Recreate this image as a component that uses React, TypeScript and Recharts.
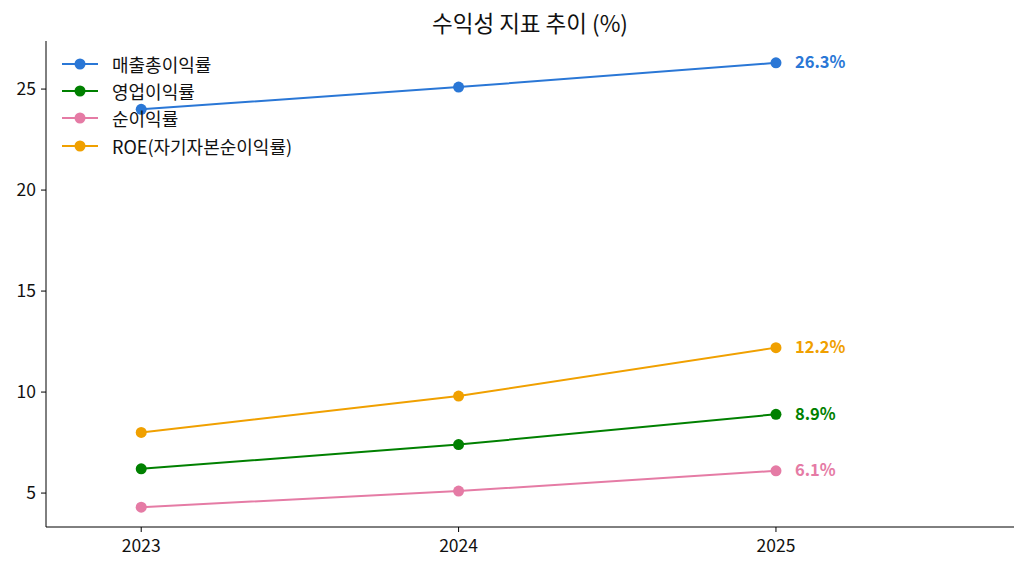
import { LineChart, Line, XAxis, YAxis, LabelList } from 'recharts';

const years = [2023, 2024, 2025];
const grossMargin = [24.0, 25.1, 26.3];
const operatingMargin = [6.2, 7.4, 8.9];
const netMargin = [4.3, 5.1, 6.1];
const roe = [8.0, 9.8, 12.2];
const yTicks = [5, 10, 15, 20, 25];

const series = [
  { key: 'gross', name: '매출총이익률', values: grossMargin, color: '#2a77d6' },
  { key: 'operating', name: '영업이익률', values: operatingMargin, color: '#008000' },
  { key: 'net', name: '순이익률', values: netMargin, color: '#e57ba5' },
  { key: 'roe', name: 'ROE(자기자본순이익률)', values: roe, color: '#f0a000' },
];

const data = years.map((year, i) => {
  const row: Record<string, number> = { year };
  series.forEach((s) => {
    row[s.key] = s.values[i];
  });
  return row;
});

const font = '"Noto Sans CJK KR", "Noto Sans", sans-serif';

// legend drawn as plain html on top of the plot, so recharts reserves no room for it
const LegendBox = () => (
  <div style={{ position: 'absolute', left: 61, top: 50, fontFamily: font, fontSize: 18, color: '#111' }}>
    {series.map((s) => (
      <div key={s.key} style={{ display: 'flex', alignItems: 'center', height: 27.3 }}>
        <svg width={38} height={14} style={{ marginRight: 13 }}>
          <line x1={1} y1={7} x2={37} y2={7} stroke={s.color} strokeWidth={2} />
          <circle cx={19} cy={7} r={5.5} fill={s.color} />
        </svg>
        <span>{s.name}</span>
      </div>
    ))}
  </div>
);

const makeEndLabel = (color: string) => (props: any) => {
  const { x, y, value, index } = props;
  if (index !== years.length - 1) return null;
  return (
    <text x={x + 19} y={y} dy={5.5} fill={color} fontSize={16.5} fontWeight="bold" fontFamily={font}>
      {`${Number(value).toFixed(1)}%`}
    </text>
  );
};

export default function App() {
  return (
    <div style={{ position: 'absolute', left: 0, top: 0, width: 1026, height: 572, background: '#fff' }}>
      <div
        style={{
          position: 'absolute',
          top: 6,
          left: 46,
          width: 968,
          textAlign: 'center',
          fontFamily: font,
          fontSize: 22.5,
          lineHeight: '32px',
          color: '#111',
        }}
      >
        수익성 지표 추이 (%)
      </div>
      <LineChart width={1026} height={572} data={data} margin={{ top: 41, right: 12, left: 0, bottom: 0 }}>
        <XAxis
          dataKey="year"
          type="number"
          domain={[2022.7, 2025.75]}
          ticks={years}
          allowDataOverflow
          height={45}
          stroke="#000"
          tickSize={5}
          tick={{ fill: '#111', fontSize: 17.5, fontFamily: font, dy: 6 }}
        />
        <YAxis
          type="number"
          domain={[3.32, 27.38]}
          ticks={yTicks}
          allowDataOverflow
          width={46}
          stroke="#000"
          tickSize={5}
          tick={{ fill: '#111', fontSize: 17.5, fontFamily: font, dx: -3 }}
        />
        {series.map((s) => (
          <Line
            key={s.key}
            dataKey={s.key}
            name={s.name}
            stroke={s.color}
            strokeWidth={2}
            dot={{ r: 5.5, fill: s.color, stroke: s.color, strokeWidth: 0 }}
            activeDot={false}
            isAnimationActive={false}
          >
            <LabelList dataKey={s.key} content={makeEndLabel(s.color)} />
          </Line>
        ))}
      </LineChart>
      <LegendBox />
    </div>
  );
}
